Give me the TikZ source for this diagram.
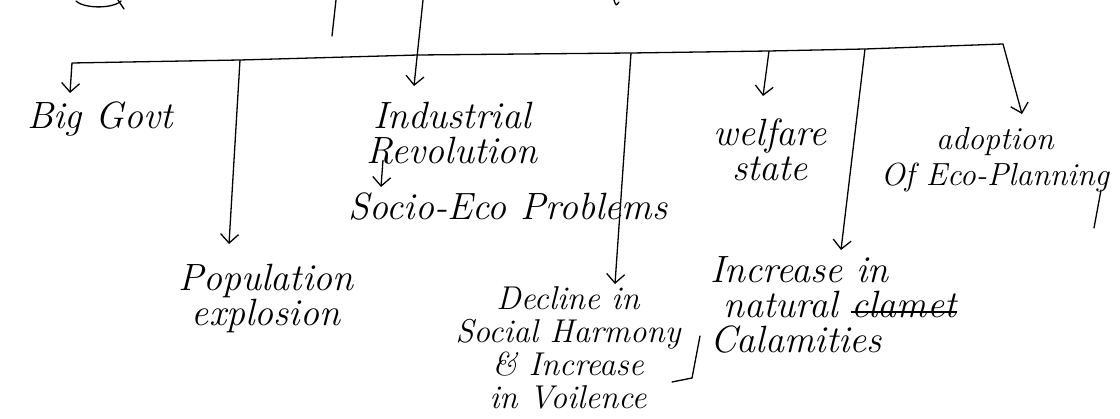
\documentclass[tikz,border=0pt]{standalone}
\usetikzlibrary{arrows.meta}
\newcommand\mystrike[1]{\setbox0\hbox{#1}\rlap{\rule[0.28ex]{\wd0}{1.3pt}}\box0}
\begin{document}
\begin{tikzpicture}[x=1pt,y=-1pt,
  hw/.style={font=\fontsize{38}{35}\selectfont\itshape, align=center, inner sep=0pt, anchor=north},
  arr/.style={-{Straight Barb[length=9pt,width=18pt]}, line width=1.3pt},
  ln/.style={line width=1.3pt, line cap=round}]
\useasboundingbox (0,0) rectangle (1120,419);
% cropped title fragments
\draw[ln] (76,1) arc (160:20:24 and 9);
\draw[ln] (118,0) -- (124,9);
\draw[ln] (336,0) -- (332,36);
\draw[ln] (614,0) .. controls (616,6) .. (619,2);
% horizontal bar
\coordinate (bL) at (72,63);
\coordinate (bP) at (240,60);
\coordinate (bI) at (418,55);
\coordinate (bD) at (631,53);
\coordinate (bW) at (769,51);
\coordinate (bN) at (865,49);
\coordinate (bA) at (1003,44);
\draw[ln] (bL) -- (bP) -- (bI) -- (bD) -- (bW) -- (bN) -- (bA);
% text nodes
\node[hw] (big) at (100,102) {Big Govt};
\node[hw] (ind) at (452,102) {Industrial\\Revolution};
\node[hw] (soc) at (508,193) {Socio-Eco Problems};
\node[hw] (pop) at (266,264) {Population\\explosion};
\node[hw, font=\fontsize{33}{33}\selectfont\itshape] (dec) at (568,286) {Decline in\\Social Harmony\\\& Increase\\in Voilence};
\node[hw] (wel) at (770,119) {welfare\\state};
\node[hw, align=left, anchor=north west] (nat) at (710,256) {Increase in\\\ natural \mystrike{clamet}\\Calamities};
\node[hw, font=\fontsize{32}{36}\selectfont\itshape] (ado) at (995,127) {adoption\\Of Eco-Planning};
% arrow tip coordinates
\coordinate (top) at (423,0);
\coordinate (tB) at (70,93);
\coordinate (tI) at (414,86);
\coordinate (tP) at (229,244);
\coordinate (sS) at (383,160);
\coordinate (tS) at (381,187);
\coordinate (tD) at (615,284);
\coordinate (tW) at (763,96);
\coordinate (tN) at (841,250);
\coordinate (tA) at (1022,114);
% connectors
\draw[arr] (top) -- (tI);
\draw[arr] (bL) -- (tB);
\draw[arr] (bP) -- (tP);
\draw[arr] (sS) -- (tS);
\draw[arr] (bD) -- (tD);
\draw[arr] (bW) -- (tW);
\draw[arr] (bN) -- (tN);
\draw[arr] (bA) -- (tA);
% bracket after Harmony and tail of g
\draw[ln] (700,336) -- (692,378) -- (672,382);
\draw[ln] (1101,190) -- (1094,228);
\end{tikzpicture}
\end{document}
